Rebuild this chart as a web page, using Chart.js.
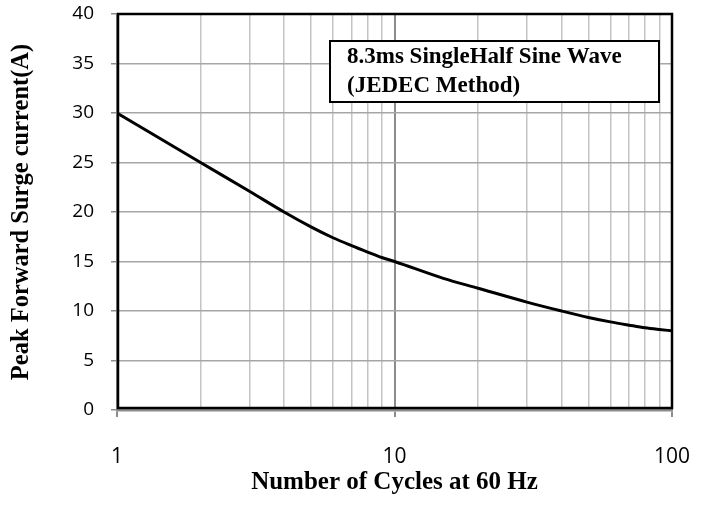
<!DOCTYPE html>
<html>
<head>
<meta charset="utf-8">
<title>Peak Forward Surge Current</title>
<style>
  body { margin: 0; background: #fff; }
  #wrap { width: 708px; height: 514px; }
</style>
</head>
<body>
<div id="wrap"><canvas id="myChart"></canvas></div>
<script src="https://cdn.jsdelivr.net/npm/chart.js"></script>
<script>
// values
const cycles  = [1, 2, 3, 4, 5, 6, 7, 8, 9, 10, 15, 20, 30, 40, 50, 60, 70, 80, 90, 100];
const current = [30, 25, 22.1, 20, 18.5, 17.4, 16.6, 15.95, 15.4, 15, 13.3, 12.3, 10.9, 10, 9.35, 8.9, 8.57, 8.3, 8.13, 8];

const xGridValues = [1, 2, 3, 4, 5, 6, 7, 8, 9, 10, 20, 30, 40, 50, 60, 70, 80, 90, 100];
const xLabelValues = [1, 10, 100];
const yTicks = [0, 5, 10, 15, 20, 25, 30, 35, 40];

const xTitle = 'Number of Cycles at 60 Hz';
const yTitle = 'Peak Forward Surge current(A)';
const noteLines = ['8.3ms SingleHalf Sine Wave', '(JEDEC Method)'];

const isDecade = v => Math.abs(Math.log10(v) % 1) < 1e-9;

// black frame round the plot + the note box
const framePlugin = {
  id: 'frame',
  afterDatasetsDraw(chart) {
    const {ctx, chartArea: a} = chart;
    ctx.save();
    ctx.strokeStyle = '#000';
    ctx.lineWidth = 2.5;
    ctx.strokeRect(a.left + 1, a.top, a.right - a.left - 1, a.bottom - a.top - 2);

    const bx = a.left + 213, by = a.top + 27, bw = a.right - 13 - (a.left + 213), bh = 61;
    ctx.fillStyle = '#fff';
    ctx.fillRect(bx, by, bw, bh);
    ctx.lineWidth = 2;
    ctx.strokeRect(bx, by, bw, bh);
    ctx.fillStyle = '#000';
    ctx.font = 'bold 23px "Liberation Serif"';
    ctx.textAlign = 'left';
    ctx.textBaseline = 'alphabetic';
    ctx.fillText(noteLines[0], bx + 17, by + 22);
    ctx.fillText(noteLines[1], bx + 17, by + 51);
    ctx.restore();
  }
};

const ctx = document.getElementById('myChart');
new Chart(ctx, {
  type: 'line',
  data: {
    datasets: [{
      data: cycles.map((c, i) => ({x: c, y: current[i]})),
      borderColor: '#000',
      borderWidth: 3,
      pointRadius: 0,
      cubicInterpolationMode: 'monotone',
      fill: false
    }]
  },
  options: {
    responsive: true,
    maintainAspectRatio: false,
    animation: false,
    layout: { padding: { top: 14, right: 36, left: 0, bottom: 0 } },
    plugins: { legend: { display: false }, tooltip: { enabled: false } },
    scales: {
      x: {
        type: 'logarithmic',
        min: 1,
        max: 100,
        afterFit: s => { s.height = 104; s.paddingLeft = 0; s.paddingRight = 0; },
        afterBuildTicks: s => { s.ticks = xGridValues.map(v => ({value: v, major: isDecade(v)})); },
        ticks: {
          autoSkip: false,
          maxRotation: 0,
          padding: 27,
          color: '#000',
          font: { family: '"Open Sans"', size: 21 },
          callback: v => xLabelValues.includes(v) ? String(v) : ''
        },
        grid: {
          color: c => isDecade(c.tick.value) ? '#8c8c8c' : '#c4c4c4',
          lineWidth: c => isDecade(c.tick.value) ? 2 : 1.5,
          tickColor: c => isDecade(c.tick.value) ? '#8c8c8c' : 'rgba(0,0,0,0)',
          tickLength: 7
        },
        border: { color: '#8c8c8c', width: 2.5 },
        title: {
          display: true,
          text: xTitle,
          color: '#000',
          font: { family: '"Liberation Serif"', size: 25, weight: 'bold' },
          padding: { top: 0, bottom: 16 }
        }
      },
      y: {
        min: 0,
        max: 40,
        afterFit: s => { s.width = 117; s.paddingTop = 0; s.paddingBottom = 0; },
        afterBuildTicks: s => { s.ticks = yTicks.map(v => ({value: v})); },
        ticks: {
          padding: 17,
          color: '#000',
          font: { family: '"Open Sans"', size: 19 }
        },
        grid: {
          color: '#a6a6a6',
          lineWidth: 1.5,
          tickColor: '#8c8c8c',
          tickLength: 6
        },
        border: { color: '#8c8c8c', width: 2.5 },
        title: {
          display: true,
          text: yTitle,
          color: '#000',
          font: { family: '"Liberation Serif"', size: 24.5, weight: 'bold' },
          padding: { top: 7, bottom: 0 }
        }
      }
    }
  },
  plugins: [framePlugin]
});
</script>
</body>
</html>
